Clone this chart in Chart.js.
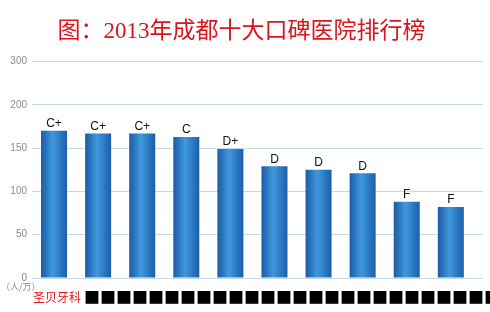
<!DOCTYPE html>
<html>
<head>
<meta charset="utf-8">
<script src="https://cdn.jsdelivr.net/npm/chart.js@4.4.0/dist/chart.umd.min.js"></script>
<style>
  html, body { margin: 0; padding: 0; background: #fff; }
</style>
</head>
<body>
<canvas id="chart" width="490" height="312"></canvas>
<script>
// data (names after the first are blacked out in the source)
const hospitals = ['圣贝牙科', '■■■', '■■■', '■■■', '■■■', '■■■', '■■■', '■■■', '■■■', '■■■'];
const visits = [170, 167, 167, 163, 149, 129, 125, 121, 88, 82];
const grades = ['C+', 'C+', 'C+', 'C', 'D+', 'D', 'D', 'D', 'F', 'F'];
const yTickValues = [0, 50, 100, 150, 200, 250];
const yTickLabels = ['0', '50', '100', '150', '200', '300'];
const yUnit = '（人/万）';
const censored = '■'.repeat(26);

// horizontal blue shading for each bar
function barShade(c) {
  const chart = c.chart;
  const xs = chart.scales.x;
  if (!xs || c.dataIndex === undefined) return '#2a7cc8';
  const cx = xs.getPixelForValue(c.dataIndex);
  if (!Number.isFinite(cx)) return '#2a7cc8';
  const half = 13;
  const g = chart.ctx.createLinearGradient(cx - half, 0, cx + half, 0);
  g.addColorStop(0, '#1c5ba5');
  g.addColorStop(0.45, '#3f98de');
  g.addColorStop(1, '#1d5ea9');
  return g;
}

// grade text above bars + unit + name row under the axis
const extraText = {
  id: 'extraText',
  afterDatasetsDraw(chart) {
    const ctx = chart.ctx;
    const meta = chart.getDatasetMeta(0);
    ctx.save();
    ctx.font = '12px "Liberation Sans Narrow", "Liberation Sans", sans-serif';
    ctx.fillStyle = '#111';
    ctx.textAlign = 'center';
    ctx.textBaseline = 'bottom';
    meta.data.forEach((bar, i) => {
      ctx.fillText(grades[i], bar.x, bar.y - 1);
    });

    ctx.textAlign = 'left';
    ctx.textBaseline = 'middle';
    ctx.fillStyle = '#8a8a8a';
    ctx.font = '9px "Noto Sans CJK SC", sans-serif';
    ctx.fillText(yUnit, 1, 287);

    ctx.fillStyle = '#e3161d';
    ctx.font = '12px "Noto Sans CJK SC", sans-serif';
    ctx.fillText(hospitals[0], 33, 297);
    ctx.fillStyle = '#000';
    ctx.font = '16px "Noto Sans CJK SC", sans-serif';
    ctx.fillText(censored, 84, 297);
    ctx.restore();
  }
};

const chart = new Chart(document.getElementById('chart').getContext('2d'), {
  type: 'bar',
  data: {
    datasets: [{
      label: '口碑',
      data: visits.map((v, i) => ({ x: i, y: v })),
      backgroundColor: barShade,
      borderWidth: 0,
      barPercentage: 0.59,
      categoryPercentage: 1
    }]
  },
  options: {
    responsive: false,
    animation: false,
    layout: { padding: { left: 0, right: 7, bottom: 34 } },
    plugins: {
      legend: { display: false },
      tooltip: { enabled: false },
      title: {
        display: true,
        text: '图：2013年成都十大口碑医院排行榜',
        color: '#d8141c',
        font: { family: '"Liberation Serif", "Noto Sans CJK SC", serif', size: 23, weight: 'normal' },
        padding: { top: 18, bottom: 16 }
      }
    },
    scales: {
      x: {
        type: 'linear',
        display: false,
        offset: false,
        min: -0.5,
        max: 9.73
      },
      y: {
        min: 0,
        max: 250,
        afterBuildTicks: s => { s.ticks = yTickValues.map(v => ({ value: v })); },
        afterFit: s => { s.width = 32; },
        border: { display: false },
        grid: { color: '#c8dce8', drawTicks: false },
        ticks: {
          padding: 5,
          color: '#8a8a8a',
          font: { family: '"Liberation Sans", sans-serif', size: 10 },
          callback: (v, i) => yTickLabels[i]
        }
      }
    }
  },
  plugins: [extraText]
});
// second pass so the shading sees laid-out scales
chart.update();
</script>
</body>
</html>
